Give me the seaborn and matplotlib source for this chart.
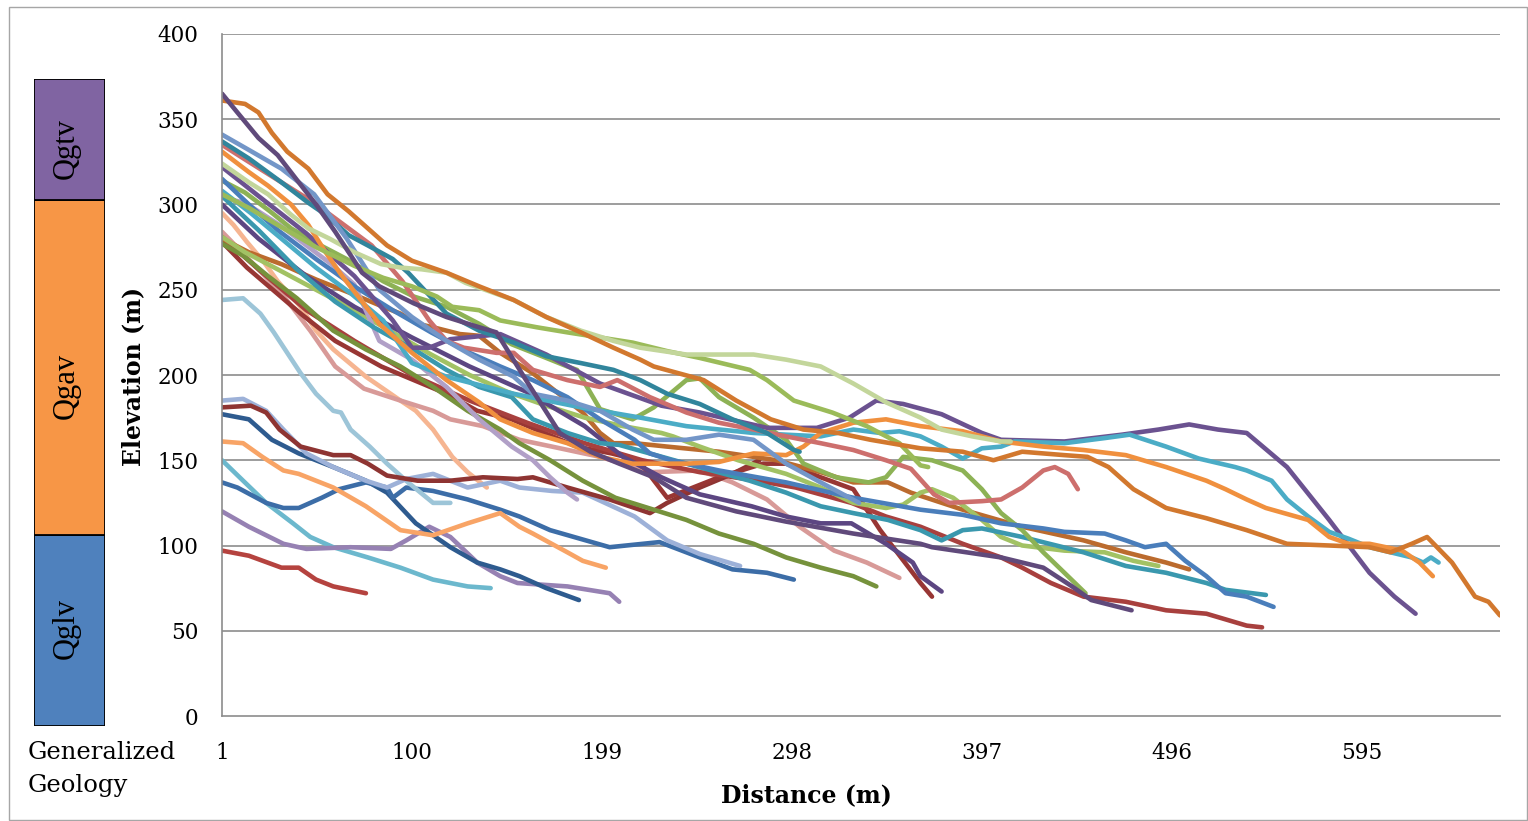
import matplotlib
matplotlib.use("Agg")
import matplotlib.pyplot as plt
from matplotlib.patches import Rectangle
import pandas as pd
import seaborn as sns

# ---------------- data ----------------
x_ticks = [1, 100, 199, 298, 397, 496, 595]
y_ticks = [0, 50, 100, 150, 200, 250, 300, 350, 400]

geology_units = ["Qglv", "Qgav", "Qgtv"]
geology_thickness = [112, 197, 71]
geology_colors = ["#4F81BD", "#F79646", "#8064A2"]

p01_x = [1, 15, 32, 41, 50, 59, 76]
p01_y = [97, 94, 87, 87, 80, 76, 72]
p02_x = [1, 12, 24, 38, 47, 59, 77, 94, 111, 129, 141]
p02_y = [150, 138, 125, 113, 105, 99, 93, 87, 80, 76, 75]
p03_x = [1, 15, 33, 45, 68, 89, 97, 109, 120, 134, 146, 155, 181, 203, 208]
p03_y = [120, 111, 101, 98, 99, 98, 103, 111, 105, 90, 82, 78, 76, 72, 67]
p04_x = [1, 15, 27, 41, 59, 76, 87, 92, 102, 120, 134, 146, 156, 170, 187]
p04_y = [177, 174, 162, 154, 146, 138, 131, 125, 113, 99, 90, 86, 82, 75, 68]
p05_x = [1, 9, 24, 33, 41, 53, 62, 76, 87, 90, 97, 111, 129, 146, 156, 172, 203, 229, 250, 267, 285, 299]
p05_y = [137, 134, 125, 122, 122, 128, 133, 137, 134, 128, 134, 132, 127, 121, 117, 109, 99, 102, 93, 86, 84, 80]
p06_x = [1, 12, 21, 28, 42, 50, 59, 63, 68, 78, 87, 98, 111, 120]
p06_y = [244, 245, 236, 225, 201, 189, 179, 178, 168, 158, 148, 137, 125, 125]
p07_x = [1, 7, 14, 23, 30, 42, 50, 59, 76, 94, 102, 111, 121, 129, 139]
p07_y = [295, 288, 278, 266, 255, 240, 226, 215, 199, 185, 179, 168, 152, 143, 134]
p08_x = [1, 14, 32, 47, 60, 75, 94, 111, 120, 137, 156, 173, 198, 224, 250, 267, 285, 302, 320, 337, 354]
p08_y = [284, 269, 248, 226, 205, 192, 185, 179, 174, 170, 162, 158, 152, 143, 144, 137, 127, 111, 97, 90, 81]
p09_x = [1, 12, 22, 33, 41, 59, 76, 94, 111, 129, 146, 156, 163, 181, 189, 201]
p09_y = [161, 160, 152, 144, 142, 134, 123, 109, 106, 113, 119, 111, 107, 96, 91, 87]
p10_x = [1, 12, 24, 33, 45, 59, 76, 87, 97, 111, 129, 146, 156, 173, 189, 216, 233, 250, 271]
p10_y = [185, 186, 179, 168, 154, 146, 138, 134, 139, 142, 134, 138, 134, 132, 131, 117, 103, 95, 88]
p11_x = [1, 16, 24, 31, 42, 59, 68, 77, 87, 103, 120, 137, 155, 163, 181, 203, 224, 233, 250, 267, 281]
p11_y = [181, 182, 178, 168, 158, 153, 153, 148, 141, 138, 138, 140, 139, 140, 134, 127, 119, 125, 134, 142, 150]
p12_x = [1, 14, 42, 60, 84, 101, 118, 134, 152, 169, 186, 204, 218, 233, 260, 283, 295, 313, 330, 344, 365, 371]
p12_y = [278, 263, 236, 220, 205, 197, 189, 179, 174, 166, 158, 154, 150, 128, 140, 148, 148, 140, 133, 109, 78, 70]
p13_x = [1, 20, 45, 70, 100, 130, 160, 190, 220, 250, 280, 300, 329, 347, 365, 387, 407, 418, 433, 450, 472, 493, 514, 535, 543]
p13_y = [281, 262, 238, 220, 200, 185, 172, 160, 150, 143, 138, 134, 125, 117, 111, 101, 93, 87, 78, 70, 67, 62, 60, 53, 52]
p14_x = [1, 15, 32, 50, 68, 85, 94, 103, 111, 125, 135, 146, 163, 172, 189, 198, 205, 216, 233, 260, 290, 313, 330, 348, 360, 387, 418, 450, 472, 493, 505]
p14_y = [280, 272, 265, 256, 248, 240, 236, 230, 228, 224, 223, 213, 201, 193, 178, 166, 160, 160, 158, 155, 150, 143, 137, 137, 131, 121, 111, 103, 96, 90, 86]
p15_x = [1, 12, 25, 40, 50, 59, 76, 94, 111, 129, 146, 156, 172, 189, 206, 226, 243, 260, 278, 295, 313, 330, 342]
p15_y = [277, 270, 258, 245, 235, 226, 215, 205, 193, 179, 168, 160, 150, 138, 128, 121, 115, 107, 101, 93, 87, 82, 76]
p16_x = [1, 13, 30, 50, 70, 90, 110, 130, 150, 170, 190, 210, 230, 236, 250, 270, 295, 313, 330, 347, 356, 365, 371, 382, 397, 407, 418, 440, 461, 476, 489]
p16_y = [281, 272, 262, 250, 238, 225, 212, 200, 190, 182, 175, 170, 166, 164, 158, 150, 142, 134, 125, 122, 124, 131, 133, 128, 115, 105, 100, 97, 96, 91, 88]
p17_x = [1, 20, 45, 70, 100, 130, 160, 190, 210, 230, 250, 277, 295, 313, 329, 347, 361, 365, 376]
p17_y = [300, 280, 258, 240, 222, 205, 190, 170, 152, 140, 130, 123, 117, 113, 113, 101, 90, 82, 73]
p18_x = [1, 13, 31, 45, 58, 70, 83, 100, 118, 135, 152, 163, 172, 181, 186]
p18_y = [304, 301, 288, 276, 265, 253, 220, 209, 193, 174, 158, 150, 140, 131, 127]
p19_x = [1, 20, 40, 60, 80, 101, 118, 135, 152, 163, 181, 198, 208, 243, 276, 295, 313, 330, 348, 365, 376, 387, 397, 418, 450, 472, 493, 514, 524, 545]
p19_y = [305, 285, 262, 243, 228, 215, 203, 193, 187, 174, 166, 160, 159, 148, 138, 131, 123, 119, 115, 109, 103, 109, 110, 105, 96, 88, 84, 78, 74, 71]
p20_x = [1, 13, 26, 37, 49, 66, 85, 101, 118, 135, 152, 170, 181, 186, 198, 215, 226, 243, 250, 260, 278, 295, 304, 321, 338, 347, 356, 371, 387, 397, 407, 418, 429, 440, 451]
p20_y = [314, 307, 296, 286, 278, 268, 255, 246, 240, 230, 218, 210, 205, 203, 180, 174, 181, 197, 198, 187, 175, 162, 148, 140, 137, 140, 152, 150, 144, 133, 119, 109, 96, 84, 72]
p21_x = [1, 15, 30, 50, 70, 90, 110, 130, 146, 163, 181, 198, 216, 224, 235, 260, 295, 330, 365, 387, 407, 429, 440, 461, 472, 482, 493, 503, 514, 524, 535, 549]
p21_y = [315, 300, 285, 268, 252, 238, 225, 213, 205, 197, 187, 174, 162, 154, 150, 144, 137, 128, 121, 118, 113, 110, 108, 107, 103, 99, 101, 91, 82, 72, 70, 64]
p22_x = [1, 20, 45, 70, 90, 100, 109, 120, 146, 170, 198, 230, 250, 285, 311, 328, 342, 356, 376, 397, 407, 440, 470, 489, 505, 520, 535, 556, 578, 599, 612, 623]
p22_y = [322, 305, 283, 258, 232, 216, 216, 221, 224, 212, 195, 182, 178, 169, 169, 175, 185, 183, 177, 166, 162, 161, 165, 168, 171, 168, 166, 146, 115, 84, 70, 60]
p23_x = [1, 16, 33, 50, 68, 85, 100, 118, 153, 188, 219, 243, 278, 295, 313, 330, 344, 354, 365, 376, 387, 397, 407, 414, 440, 461, 474, 493, 510, 529, 535, 548, 556, 567, 578, 588, 599, 621, 627, 631, 635]
p23_y = [308, 295, 279, 263, 248, 232, 207, 199, 189, 181, 175, 170, 166, 165, 164, 168, 166, 167, 164, 158, 151, 157, 158, 161, 160, 163, 165, 158, 151, 146, 144, 138, 127, 117, 108, 104, 99, 93, 90, 93, 90]
p24_x = [1, 15, 25, 37, 46, 55, 63, 83, 100, 118, 135, 146, 163, 181, 198, 215, 243, 260, 278, 295, 304, 313, 330, 347, 365, 387, 407, 429, 450, 472, 493, 514, 524, 535, 545, 567, 578, 588, 599, 616, 625, 632]
p24_y = [331, 319, 311, 300, 288, 272, 259, 230, 213, 197, 184, 174, 166, 160, 152, 148, 148, 149, 154, 153, 158, 166, 172, 174, 170, 167, 161, 158, 156, 153, 146, 138, 133, 127, 122, 115, 105, 101, 101, 97, 90, 82]
p25_x = [1, 15, 32, 49, 67, 79, 95, 109, 118, 127, 144, 153, 163, 181, 198, 207, 224, 243, 260, 278, 295, 313, 330, 347, 360, 372, 380, 397, 407, 418, 429, 435, 442, 447]
p25_y = [335, 325, 313, 301, 286, 276, 255, 232, 220, 216, 213, 213, 203, 197, 193, 197, 187, 178, 172, 168, 164, 160, 156, 150, 145, 130, 125, 126, 127, 134, 144, 146, 142, 133]
p26_x = [1, 15, 32, 46, 55, 67, 77, 90, 98, 118, 135, 153, 170, 188, 205, 219, 233, 250, 267, 285, 299, 302]
p26_y = [337, 327, 313, 301, 294, 282, 276, 268, 260, 236, 226, 219, 211, 207, 203, 197, 189, 183, 174, 166, 156, 155]
p27_x = [1, 15, 32, 49, 66, 83, 100, 118, 135, 153, 163, 181, 198, 215, 226, 243, 260, 278, 295, 313, 333]
p27_y = [341, 332, 321, 306, 280, 250, 234, 220, 209, 199, 189, 185, 179, 168, 162, 162, 165, 162, 148, 137, 125]
p28_x = [1, 15, 30, 50, 70, 85, 100, 113, 121, 135, 146, 165, 181, 198, 215, 233, 250, 276, 285, 299, 319, 337, 354, 365, 369]
p28_y = [306, 298, 288, 275, 264, 257, 252, 246, 240, 238, 232, 228, 225, 222, 219, 214, 210, 203, 197, 185, 178, 170, 160, 147, 146]
p29_x = [1, 15, 25, 37, 46, 57, 70, 84, 94, 105, 118, 128, 153, 170, 188, 205, 219, 243, 260, 278, 295, 313, 330, 347, 365, 376, 392, 407, 412]
p29_y = [324, 313, 306, 294, 286, 280, 272, 265, 263, 262, 260, 254, 244, 234, 226, 220, 216, 212, 212, 212, 209, 205, 195, 184, 175, 168, 164, 161, 161]
p30_x = [1, 13, 20, 27, 35, 46, 56, 67, 77, 87, 100, 118, 135, 153, 170, 188, 205, 219, 226, 252, 269, 287, 304, 322, 339, 365, 387, 403, 418, 440, 452, 463, 476, 493, 514, 535, 556, 578, 599, 610, 621, 629, 642, 654, 661, 667]
p30_y = [361, 359, 354, 342, 331, 321, 306, 296, 286, 276, 267, 260, 252, 244, 234, 225, 216, 209, 205, 197, 185, 174, 168, 166, 162, 157, 155, 150, 155, 153, 152, 146, 133, 122, 116, 109, 101, 100, 99, 96, 101, 105, 90, 70, 67, 59]
p31_x = [1, 9, 20, 30, 41, 50, 60, 67, 74, 83, 101, 118, 135, 144, 160, 177, 193, 208, 226, 243, 269, 295, 330, 365, 371, 407, 429, 444, 454, 475]
p31_y = [365, 354, 339, 329, 313, 300, 284, 272, 260, 252, 242, 234, 228, 225, 196, 166, 155, 148, 140, 128, 120, 114, 107, 101, 99, 93, 87, 76, 68, 62]

profiles = [
    ("P01", p01_x, p01_y), ("P02", p02_x, p02_y), ("P03", p03_x, p03_y),
    ("P04", p04_x, p04_y), ("P05", p05_x, p05_y), ("P06", p06_x, p06_y),
    ("P07", p07_x, p07_y), ("P08", p08_x, p08_y), ("P09", p09_x, p09_y),
    ("P10", p10_x, p10_y), ("P11", p11_x, p11_y), ("P12", p12_x, p12_y),
    ("P13", p13_x, p13_y), ("P14", p14_x, p14_y), ("P15", p15_x, p15_y),
    ("P16", p16_x, p16_y), ("P17", p17_x, p17_y), ("P18", p18_x, p18_y),
    ("P19", p19_x, p19_y), ("P20", p20_x, p20_y), ("P21", p21_x, p21_y),
    ("P22", p22_x, p22_y), ("P23", p23_x, p23_y), ("P24", p24_x, p24_y),
    ("P25", p25_x, p25_y), ("P26", p26_x, p26_y), ("P27", p27_x, p27_y),
    ("P28", p28_x, p28_y), ("P29", p29_x, p29_y), ("P30", p30_x, p30_y),
    ("P31", p31_x, p31_y),
]

line_colors = [
    "#B5433F", "#6CB8CD", "#9681B3", "#2E5B8F", "#3C6DA7", "#9DC5D8",
    "#F6B591", "#D89A98", "#F8A466", "#9DB1D8", "#8E3432", "#983634",
    "#A8403E", "#BB6B2E", "#76923C", "#A2C264", "#5C4682", "#B1A0C7",
    "#3A98AE", "#8DB255", "#4A7EBB", "#6B5290", "#4BACC6", "#F0903E",
    "#CD6F6D", "#31859C", "#7396C8", "#9BBB59", "#C3D69B", "#D2782E",
    "#604A7B",
]

# ---------------- build long table ----------------
rows = []
for name, xs, ys in profiles:
    assert len(xs) == len(ys), name
    for xv, yv in zip(xs, ys):
        rows.append({"profile": name, "distance": xv, "elevation": yv})
df = pd.DataFrame(rows)

sns.set_theme(style="white")
plt.rcParams["font.family"] = ["DejaVu Serif", "DejaVu Sans"]

W, H = 1528, 821
fig = plt.figure(figsize=(W / 100, H / 100), dpi=100)
fig.patch.set_facecolor("white")

ax = fig.add_axes([222 / W, 1 - 716 / H, (1500 - 222) / W, (716 - 34) / H])
grid_c = "#8C8C8C"
for yv in y_ticks[1:]:
    ax.axhline(yv, color=grid_c, lw=1.2, zorder=0)

sns.lineplot(
    data=df, x="distance", y="elevation", hue="profile",
    hue_order=[p[0] for p in profiles], palette=line_colors,
    estimator=None, sort=False, legend=False, linewidth=3.3,
    solid_capstyle="round", solid_joinstyle="round", ax=ax,
)

ax.set_xlim(1, 667)
ax.set_ylim(0, 400)
ax.set_xticks(x_ticks)
ax.set_xticklabels([str(v) for v in x_ticks])
ax.set_yticks(y_ticks)
ax.set_yticklabels([str(v) for v in y_ticks])
for side in ("top", "right"):
    ax.spines[side].set_visible(False)
for side in ("left", "bottom"):
    ax.spines[side].set_color(grid_c)
    ax.spines[side].set_linewidth(1.2)
ax.tick_params(axis="both", direction="out", length=7, width=1.2,
               color=grid_c, labelsize=15.5, labelcolor="black")
ax.tick_params(axis="y", pad=10)
ax.tick_params(axis="x", pad=12)

ax.set_xlabel("Distance (m)", fontsize=17, fontweight="bold", color="black")
ax.set_ylabel("Elevation (m)", fontsize=17, fontweight="bold", color="black")
ax.xaxis.label.set_va("center")
ax.yaxis.label.set_va("center")
ax.xaxis.set_label_coords(0.457, -0.116)
ax.yaxis.set_label_coords(-0.0696, 0.4985)

# ---------------- generalized geology column ----------------
gax = fig.add_axes([34 / W, 1 - 726 / H, 71 / W, (726 - 79) / H])
bottoms = [sum(geology_thickness[:i]) for i in range(len(geology_thickness))]
gax.bar([0] * 3, geology_thickness, bottom=bottoms, width=1.0,
        color=geology_colors, edgecolor="black", linewidth=1.3)
gax.set_xlim(-0.5, 0.5)
gax.set_ylim(0, sum(geology_thickness))
gax.axis("off")
label_pos = [57, 200, 339]
for name, ypos in zip(geology_units, label_pos):
    gax.text(-0.05, ypos, name, rotation=90, ha="center", va="center",
             fontsize=22, family="Liberation Serif", color="black")

fig.text(28 / W, 1 - 741 / H, "Generalized\nGeology", ha="left", va="top",
         fontsize=17.5, linespacing=1.55, color="black")

fig.add_artist(Rectangle((9 / W, 1 - 820 / H), (1527 - 9) / W, (820 - 7) / H,
                         transform=fig.transFigure, fill=False,
                         edgecolor="#A6A6A6", linewidth=1.0))

fig.savefig("out.png", dpi=100, facecolor="white")
